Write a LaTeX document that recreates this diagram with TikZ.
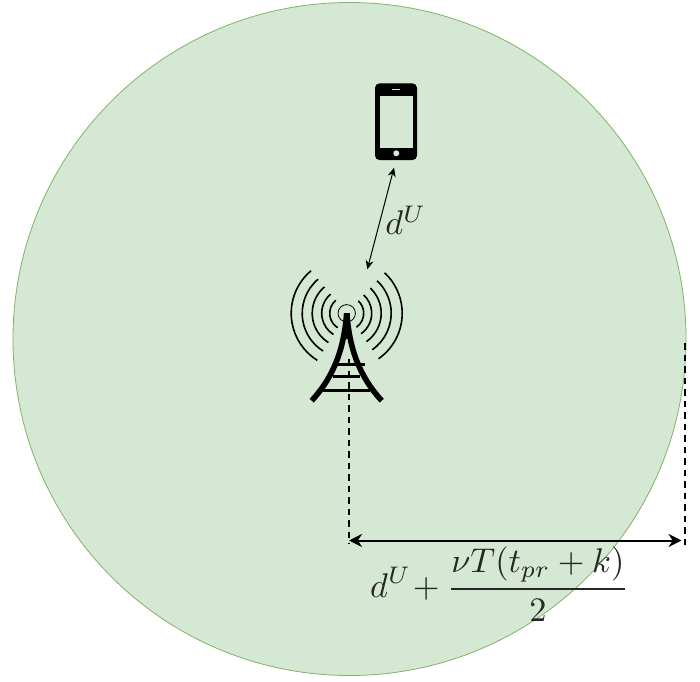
\documentclass[tikz,border=0pt]{standalone}
\usepackage{amsmath}
\usetikzlibrary{arrows.meta}
\definecolor{cellfill}{HTML}{D5E8D4}
\definecolor{celledge}{HTML}{82B366}
\tikzset{
  wave/.style={line width=1.6pt,black},
  leg/.style={line width=5.6pt,black},
  rung/.style={line width=3pt,black},
  guide/.style={line width=1.9pt,black,dash pattern=on 6.5pt off 5pt},
  link/.style={line width=1pt,black,{Stealth[length=9pt,width=8pt]}-{Stealth[length=9pt,width=8pt]}},
  span/.style={line width=2pt,black,{Stealth[length=13pt,width=13pt]}-{Stealth[length=13pt,width=13pt]}},
  lab/.style={inner sep=0pt,scale=3.43,text=black!85}
}
\begin{document}
\begin{tikzpicture}[x=1pt,y=1pt]
\useasboundingbox (0,0) rectangle (700,681);
% coverage circle
\node[circle,draw=celledge,fill=cellfill,line width=0.8pt,minimum size=673pt,inner sep=0pt] (cell) at (349.5,342) {};
% tower
\coordinate (apex) at (346.7,367.7);
\foreach \r in {17,25,34.5,44.5,55.5}{
  \draw[wave] (apex) ++(130:\r) arc[start angle=130,end angle=238,radius=\r];
  \draw[wave] (apex) ++(-55:\r) arc[start angle=-55,end angle=47,radius=\r];
}
\draw[line width=0.8pt,black] (apex) circle[radius=8.7];
\draw[leg] (apex) .. controls (344,335) and (336,307) .. (311.7,280.3);
\draw[leg] (apex) .. controls (349.4,335) and (357.4,307) .. (381.7,280.3);
\draw[line width=5.8pt] (apex) -- (346.7,342);
\draw[rung] (338,317) -- (365,317);
\draw[rung] (333,304.3) -- (360,304.3);
\draw[rung] (323,291) -- (370,291);
% phone
\node[fill=black,rounded corners=4.5pt,minimum width=42pt,minimum height=76.7pt,inner sep=0pt] (phone) at (396,559.3) {};
\node[fill=cellfill,minimum width=33pt,minimum height=52pt,inner sep=0pt] (screen) at (396.2,559.3) {};
\node[fill=cellfill,minimum width=8pt,minimum height=1.4pt,inner sep=0pt] (speaker) at (396.3,591.3) {};
\node[circle,fill=cellfill,minimum size=6pt,inner sep=0pt] (home) at (396.3,527.7) {};
% link
\coordinate (linkA) at (394,513.3);
\coordinate (linkB) at (367.3,411.7);
\draw[link] (linkA) -- (linkB);
\node[lab] (du) at (405.8,460.5) {$d^U$};
% guides
\coordinate (guideL) at (349,322);
\coordinate (guideLb) at (349,137);
\coordinate (guideR) at (685,338);
\coordinate (guideRb) at (685,136);
\draw[guide] (guideL) -- (guideLb);
\draw[guide] (guideR) -- (guideRb);
\coordinate (spanL) at (349,140.5);
\coordinate (spanR) at (681.5,140.5);
\draw[span] (spanL) -- (spanR);
\node[lab] (range) at (499.4,97) {$\displaystyle d^U\!+\genfrac{}{}{0.6pt}{0}{\nu T(t_{pr}+k)}{2}$};
\end{tikzpicture}
\end{document}
